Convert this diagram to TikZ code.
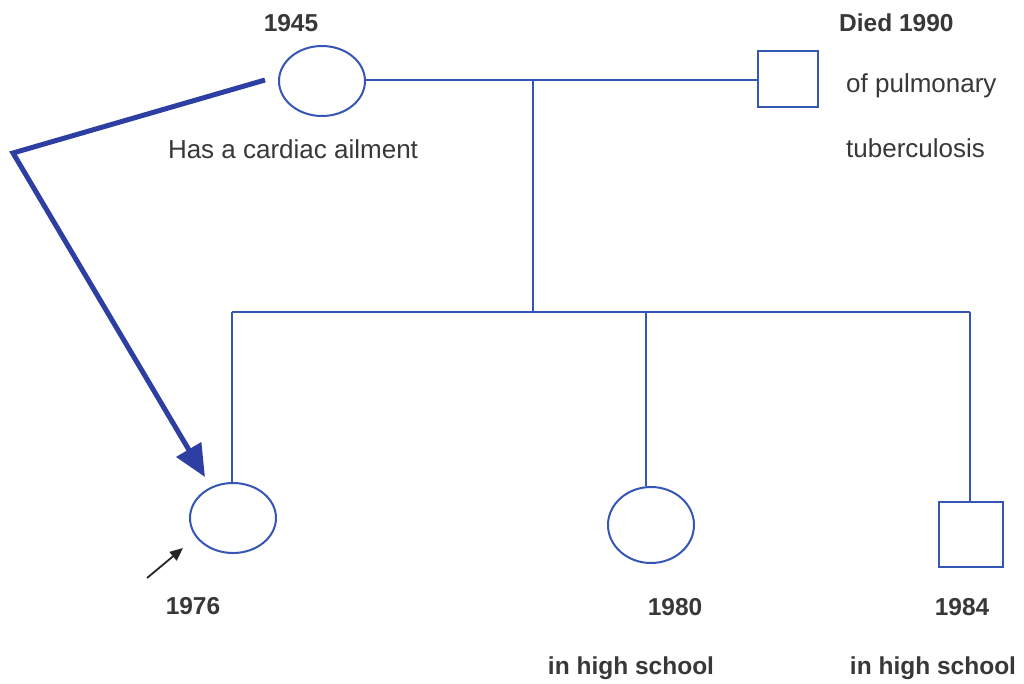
\documentclass[tikz,border=0pt]{standalone}
\usepackage{fontspec}
\setmainfont{Liberation Sans}
\usetikzlibrary{shapes.geometric,arrows.meta}
\definecolor{pedblue}{HTML}{3556B4}
\definecolor{thickblue}{HTML}{2E3FA3}
\definecolor{txt}{HTML}{383838}
\tikzset{
  female/.style={ellipse,draw=pedblue,line width=2pt,inner sep=0pt,minimum width=86pt,minimum height=70pt},
  male/.style={rectangle,draw=pedblue,line width=2pt,inner sep=0pt},
  link/.style={draw=pedblue,line width=2pt},
  yearlbl/.style={text=txt,font=\fontsize{24.5}{28}\selectfont\bfseries,inner sep=0pt},
  notelbl/.style={text=txt,font=\fontsize{26}{30}\selectfont,inner sep=0pt},
}
\begin{document}
\begin{tikzpicture}[x=1pt,y=-1pt]
\useasboundingbox[fill=white] (0,0) rectangle (1024,683);
% persons
\node[female] (mother) at (322,81) {};
\node[male,minimum width=60pt,minimum height=56pt] (father) at (788,79) {};
\node[female] (c1) at (233,518) {};
\node[female,minimum height=76pt] (c2) at (651,525) {};
\node[male,minimum width=64pt,minimum height=65pt] (c3) at (971,534) {};
% coordinates
\coordinate (m) at (533,80);
\coordinate (s) at (533,312);
\coordinate (sl) at (232,312);
\coordinate (s2) at (646,312);
\coordinate (sr) at (970,312);
% lines
\draw[link] (mother.east |- m) -- (father.west |- m);
\draw[link] (m) -- (s);
\draw[link] (sl) -- (sr);
\draw[link] (sl) -- (sl |- c1.north);
\draw[link] (s2) -- (s2 |- c2.north);
\draw[link] (sr) -- (sr |- c3.north);
% thick arrow
\coordinate (a0) at (265,80);
\coordinate (a1) at (13,153);
\coordinate (a2) at (205,477);
\draw[thickblue,line width=5pt,line join=miter,-{Triangle[length=32pt,width=28pt]}] (a0) -- (a1) -- (a2);
% proband arrow
\coordinate (p0) at (147,578);
\coordinate (p1) at (183,548);
\draw[black!85,line width=1.8pt,-{Triangle[length=13pt,width=11pt]}] (p0) -- (p1);
% labels
\node[yearlbl] (y1945) at (291,23) {1945};
\node[yearlbl,anchor=west] (died) at (839,23) {Died 1990};
\node[notelbl,anchor=west] (pulm) at (846,86) {of pulmonary};
\node[notelbl,anchor=west] (tb) at (846,148) {tuberculosis};
\node[notelbl] (cardiac) at (293,149) {Has a cardiac ailment};
\node[yearlbl] (y1976) at (193,606) {1976};
\node[yearlbl] (y1980) at (675,607) {1980};
\node[yearlbl] (y1984) at (962,607) {1984};
\node[yearlbl] (hs1) at (631,668) {in high school};
\node[yearlbl] (hs2) at (933,668) {in high school};
\end{tikzpicture}
\end{document}
